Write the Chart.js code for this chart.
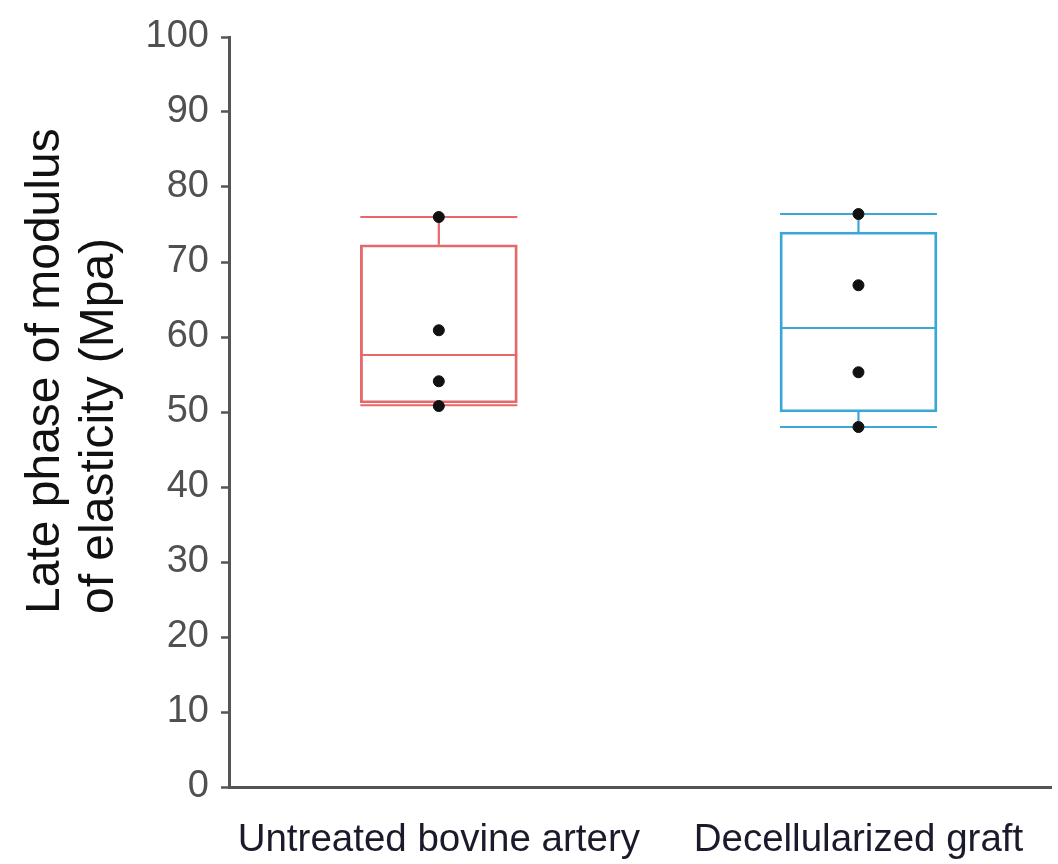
<!DOCTYPE html>
<html>
<head>
<meta charset="utf-8">
<script src="https://cdn.jsdelivr.net/npm/chart.js@4.4.0/dist/chart.umd.min.js"></script>
<style>
  html, body { margin: 0; padding: 0; background: #fff; }
  #wrap { width: 1058px; height: 864px; }
</style>
</head>
<body>
<div id="wrap"><canvas id="boxChart" width="1058" height="864"></canvas></div>
<script>
// groups and their box plot stats
const groups = ['Untreated bovine artery', 'Decellularized graft'];
const groupColors = ['#E5686A', '#3AA8D6'];
const whiskerLow = [50.9, 48.0];
const q1 = [51.2, 50.0];
const median = [57.6, 61.2];
const q3 = [72.3, 74.0];
const whiskerHigh = [76.0, 76.4];
// individual samples
const redPoints = [76.0, 60.9, 54.1, 50.8];
const bluePoints = [76.4, 66.9, 55.3, 48.0];
const yTicks = [0, 10, 20, 30, 40, 50, 60, 70, 80, 90, 100];

const axisColor = '#555555';
const boxWidth = 157;
const fontFamily = '"Liberation Sans", Arial, sans-serif';

// median line, whiskers and caps drawn from the scales
const whiskerPlugin = {
    id: 'whiskers',
    beforeDatasetsDraw(chart) {
        const { ctx, scales: { x, y } } = chart;
        ctx.save();
        ctx.lineWidth = 2.2;
        groups.forEach((g, i) => {
            const cx = x.getPixelForValue(i + 1);
            const half = boxWidth / 2;
            ctx.strokeStyle = groupColors[i];
            ctx.beginPath();
            // upper whisker + cap
            ctx.moveTo(cx, y.getPixelForValue(q3[i]));
            ctx.lineTo(cx, y.getPixelForValue(whiskerHigh[i]));
            ctx.moveTo(cx - half, y.getPixelForValue(whiskerHigh[i]));
            ctx.lineTo(cx + half, y.getPixelForValue(whiskerHigh[i]));
            // lower whisker + cap
            ctx.moveTo(cx, y.getPixelForValue(q1[i]));
            ctx.lineTo(cx, y.getPixelForValue(whiskerLow[i]));
            ctx.moveTo(cx - half, y.getPixelForValue(whiskerLow[i]));
            ctx.lineTo(cx + half, y.getPixelForValue(whiskerLow[i]));
            // median
            ctx.moveTo(cx - half, y.getPixelForValue(median[i]));
            ctx.lineTo(cx + half, y.getPixelForValue(median[i]));
            ctx.stroke();
        });
        ctx.restore();
    }
};

// two-line y title, left aligned along the axis
const yTitlePlugin = {
    id: 'yTitle',
    afterDraw(chart) {
        const { ctx } = chart;
        ctx.save();
        ctx.fillStyle = '#111';
        ctx.font = '48px ' + fontFamily;
        ctx.textAlign = 'left';
        ctx.textBaseline = 'alphabetic';
        ctx.translate(0, 614);
        ctx.rotate(-Math.PI / 2);
        ctx.fillText('Late phase of modulus', 0, 59);
        ctx.fillText('of elasticity (Mpa)', 0, 113);
        ctx.restore();
    }
};

const ctx = document.getElementById('boxChart').getContext('2d');
new Chart(ctx, {
    data: {
        datasets: [{
            type: 'bar',
            data: groups.map((g, i) => ({ x: i + 1, y: [q1[i], q3[i]] })),
            backgroundColor: 'rgba(0,0,0,0)',
            borderColor: groupColors,
            borderWidth: 2.2,
            borderSkipped: false,
            barThickness: boxWidth,
            order: 2
        }, {
            type: 'scatter',
            data: redPoints.map(v => ({ x: 1, y: v })).concat(bluePoints.map(v => ({ x: 2, y: v }))),
            backgroundColor: '#111',
            borderColor: '#111',
            pointRadius: 5.5,
            order: 1
        }]
    },
    options: {
        responsive: false,
        animation: false,
        layout: { padding: { top: 37, left: 0, right: 0, bottom: 0 } },
        plugins: {
            legend: { display: false },
            tooltip: { enabled: false }
        },
        scales: {
            x: {
                type: 'linear',
                min: 0.5,
                max: 2.46,
                offset: false,
                afterBuildTicks: scale => { scale.ticks = groups.map((g, i) => ({ value: i + 1 })); },
                afterFit: scale => { scale.height = 77; },
                grid: { display: true, offset: false, drawOnChartArea: false, drawTicks: false },
                border: { color: axisColor, width: 3 },
                ticks: {
                    callback: v => groups[v - 1],
                    color: '#1a1a2a',
                    padding: 30,
                    maxRotation: 0,
                    autoSkip: false,
                    font: { family: fontFamily, size: 38.5 }
                }
            },
            y: {
                min: 0,
                max: 100,
                afterBuildTicks: scale => { scale.ticks = yTicks.map(v => ({ value: v })); },
                afterFit: scale => { scale.width = 229; },
                grid: { drawOnChartArea: false, tickLength: 8, tickColor: axisColor, tickWidth: 2.5 },
                border: { color: axisColor, width: 3 },
                ticks: {
                    color: '#505050',
                    padding: 12,
                    font: { family: fontFamily, size: 38 }
                }
            }
        }
    },
    plugins: [whiskerPlugin, yTitlePlugin]
});
</script>
</body>
</html>
